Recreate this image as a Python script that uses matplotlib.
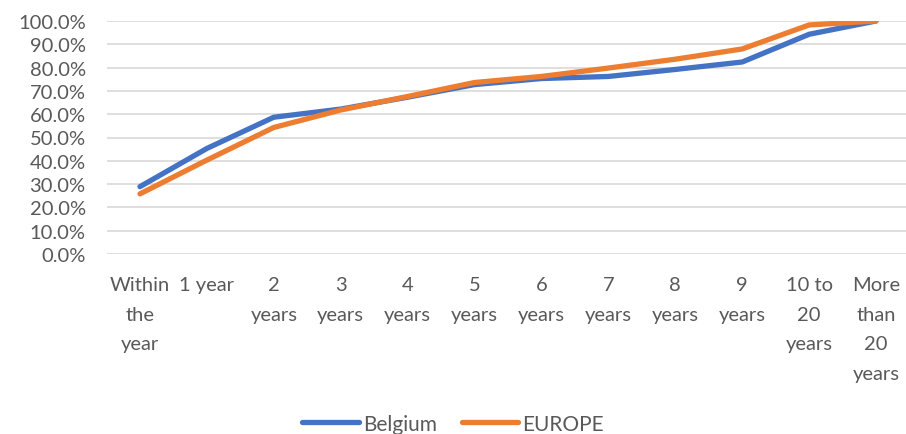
import matplotlib.pyplot as plt
from matplotlib.ticker import PercentFormatter

categories = ["Within\nthe\nyear", "1 year", "2\nyears", "3\nyears", "4\nyears", "5\nyears",
              "6\nyears", "7\nyears", "8\nyears", "9\nyears", "10 to\n20\nyears", "More\nthan\n20\nyears"]
belgium = [28.9, 45.3, 58.7, 62.2, 67.3, 72.7, 75.3, 76.2, 79.2, 82.4, 94.3, 100.0]
europe = [25.8, 40.3, 54.3, 61.8, 67.6, 73.6, 76.2, 79.8, 83.6, 88.0, 98.3, 100.0]

plt.rcParams['font.family'] = ['Lato', 'DejaVu Sans']
grey = "#595959"

fig = plt.figure(figsize=(9.06, 4.35), dpi=100)
ax = fig.add_axes([106.5 / 906, 1 - 255 / 435, 803 / 906, 233 / 435])

x = list(range(len(categories)))
ax.plot(x, belgium, color="#4472C4", linewidth=3.8, label="Belgium", solid_capstyle="round")
ax.plot(x, europe, color="#ED7D31", linewidth=3.8, label="EUROPE", solid_capstyle="round")

ax.set_xlim(-0.5, len(categories) - 0.5)
ax.set_ylim(0, 100)
ax.set_yticks(range(0, 101, 10))
ax.yaxis.set_major_formatter(PercentFormatter(decimals=1))
ax.set_xticks(x)
ax.set_xticklabels(categories, linespacing=1.9)
ax.tick_params(axis="both", length=0, labelsize=14.5, labelcolor=grey)
ax.tick_params(axis="y", pad=15)
ax.tick_params(axis="x", pad=16)
ax.grid(axis="y", color="#D9D9D9", linewidth=1.2)
ax.set_axisbelow(True)
for s in ax.spines.values():
    s.set_visible(False)

leg = fig.legend(loc="lower center", ncol=2, frameon=False, fontsize=15,
                 bbox_to_anchor=(0.5, -0.042), handlelength=2.7, handletextpad=0.2,
                 columnspacing=1.2)
for t in leg.get_texts():
    t.set_color(grey)

fig.savefig("out.png", dpi=100)
